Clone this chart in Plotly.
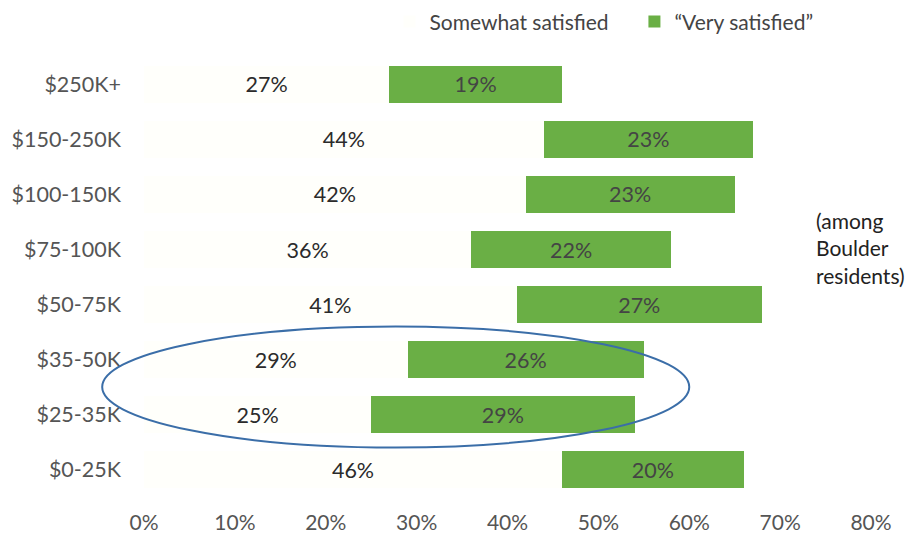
import plotly.graph_objects as go

categories = ["$0-25K", "$25-35K", "$35-50K", "$50-75K", "$75-100K", "$100-150K", "$150-250K", "$250K+"]
somewhat = [46, 25, 29, 41, 36, 42, 44, 27]
very = [20, 29, 26, 27, 22, 23, 23, 19]
x_ticks = [0, 10, 20, 30, 40, 50, 60, 70, 80]
x_tick_labels = [f"{v}%" for v in x_ticks]

FONT = "Lato, 'Open Sans', sans-serif"
X_MAX = 80

fig = go.Figure()
fig.add_trace(go.Bar(
    y=categories, x=somewhat, orientation="h", name="Somewhat satisfied",
    marker=dict(color="#fffffb", line=dict(width=0)),
    text=[f"{v}%" for v in somewhat], textposition="inside", insidetextanchor="middle",
    textfont=dict(family=FONT, size=21.5, color="#2b2b2b"),
))
fig.add_trace(go.Bar(
    y=categories, x=very, orientation="h", name="\u201cVery satisfied\u201d",
    marker=dict(color="#6aaf45", line=dict(width=0)),
    text=[f"{v}%" for v in very], textposition="inside", insidetextanchor="middle",
    textfont=dict(family=FONT, size=21.5, color="#444444"),
))

# highlight ellipse around the $25-35K and $35-50K rows (x given in % units)
ell_x0, ell_x1 = -4.6, 60.0
fig.add_shape(type="circle", xref="paper", yref="y",
              x0=ell_x0 / X_MAX, x1=ell_x1 / X_MAX, y0=0.4, y1=2.6,
              line=dict(color="#3b6ea8", width=2))

fig.add_annotation(x=0.921, y=0.566, xref="paper", yref="paper", xanchor="left", yanchor="middle",
                   text="(among<br>Boulder<br>residents)", showarrow=False, align="left",
                   font=dict(family=FONT, size=21, color="#222222"))

fig.update_layout(
    width=918, height=537,
    barmode="stack", bargap=0.31,
    plot_bgcolor="white", paper_bgcolor="white",
    margin=dict(l=136, r=55, t=49, b=48),
    font=dict(family=FONT, size=21, color="#555555"),
    showlegend=True,
    legend=dict(orientation="h", x=0.4155, y=0.974, xref="container", yref="container",
                xanchor="left", yanchor="middle",
                font=dict(family=FONT, size=21, color="#444444"),
                itemwidth=30, traceorder="normal", entrywidth=200, entrywidthmode="pixels"),
    xaxis=dict(range=[0, X_MAX], tickvals=x_ticks, ticktext=x_tick_labels,
               showgrid=False, zeroline=False, showline=False, automargin=False,
               tickfont=dict(family=FONT, size=21, color="#555555"), ticklabelstandoff=11),
    yaxis=dict(showgrid=False, zeroline=False, showline=False, automargin=False,
               tickfont=dict(family=FONT, size=21.5, color="#555555"), ticklabelstandoff=22),
)

fig.write_html("out.html")
